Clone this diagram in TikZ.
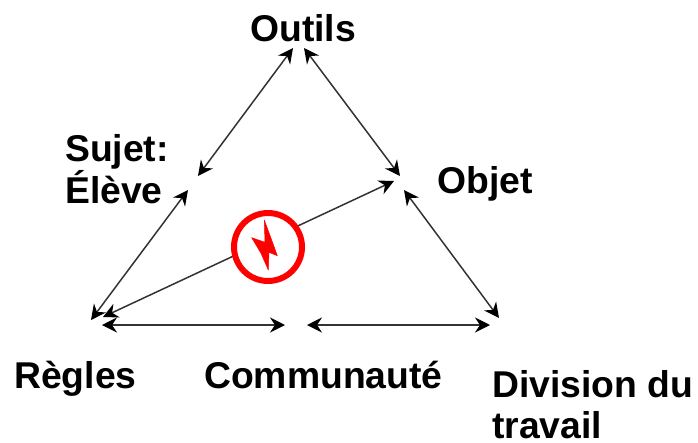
\documentclass[tikz,border=0pt]{standalone}
\usepackage{fontspec}
\setmainfont{Liberation Sans}
\usetikzlibrary{arrows.meta}
\tikzstyle{label} = [font=\bfseries\fontsize{37.3}{40.7}\selectfont, anchor=base west, inner sep=0pt, align=left]
\tikzstyle{arrow} = [line width=1.5pt, draw=black!80, <->, >={Stealth[length=15pt,width=15pt,inset=5pt,black]}]
\begin{document}
\begin{tikzpicture}[x=1pt, y=-1pt]
\useasboundingbox (0,0) rectangle (698,442);
% ends of the connectors
\coordinate (OutilsL) at (293,48);
\coordinate (OutilsR) at (304,48);
\coordinate (SujetT) at (198,176);
\coordinate (SujetB) at (188,190);
\coordinate (ObjetT) at (400,176);
\coordinate (ObjetB) at (404,190);
\coordinate (ObjetC) at (394,181);
\coordinate (ReglesT) at (91,320);
\coordinate (ReglesC) at (103,317);
\coordinate (ReglesB) at (102,325);
\coordinate (CommL) at (285,325);
\coordinate (CommR) at (307,325);
\coordinate (DivT) at (499,318);
\coordinate (DivB) at (490,325);
% labels
\node (Outils) [label] at (250,41) {Outils};
\node (Sujet) [label] at (65,203) {Sujet:\\Élève};
\node (Objet) [label] at (437,193) {Objet};
\node (Regles) [label] at (14,388) {Règles};
\node (Communaute) [label] at (204,388) {Communauté};
\node (Division) [label] at (492,438.5) {Division du\\travail};
% connectors
\draw [arrow] (OutilsL) -- (SujetT);
\draw [arrow] (OutilsR) -- (ObjetT);
\draw [arrow] (SujetB) -- (ReglesT);
\draw [arrow] (ObjetB) -- (DivT);
\draw [arrow] (ReglesC) -- (ObjetC);
\draw [arrow] (ReglesB) -- (CommL);
\draw [arrow] (CommR) -- (DivB);
% contradiction sign
\node (Conflit) [circle, draw=red, fill=white, line width=6pt, minimum size=68pt, inner sep=0pt] at (268,247) {};
\fill [red, draw=red, line width=0.5pt, line join=round] (264.3,220) -- (272,241) -- (277.3,255.7) -- (269,252.3) -- (268.3,270) -- (261,253.3) -- (251.7,237.7) -- (265,242.3) -- cycle;
\end{tikzpicture}
\end{document}
